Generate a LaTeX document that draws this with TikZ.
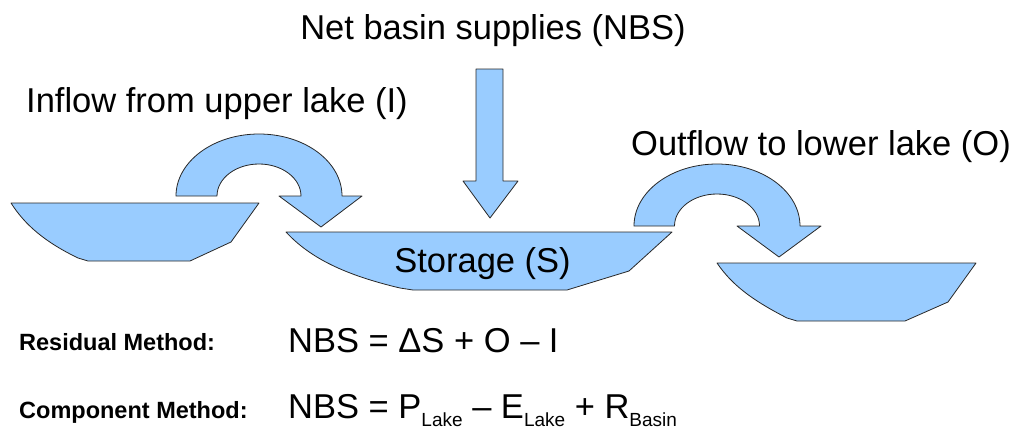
\documentclass[tikz,border=0pt]{standalone}
\usepackage{fontspec}
\setmainfont{Liberation Sans}
\definecolor{lakeblue}{RGB}{153,204,255}
\definecolor{edge}{RGB}{40,40,40}
\newcommand{\lowsub}[1]{\raisebox{-8pt}{\fontsize{19}{20}\selectfont #1}}
\begin{document}
\begin{tikzpicture}[x=1pt,y=-1pt,
  water/.style={fill=lakeblue,draw=edge,line width=0.8pt,line join=round},
  bigtext/.style={inner sep=0pt,font=\fontsize{34.5}{40}\selectfont},
  labeltext/.style={inner sep=0pt,anchor=base west,font=\bfseries\fontsize{23.5}{28}\selectfont}]
\useasboundingbox (0,0) rectangle (1019,429);
% lakes
\path[water] (11,203) -- (259,203) -- (231,242) -- (190,261) -- (88,261) -- (78,258)
  .. controls (45,242) and (25,225) .. (11,203) -- cycle;
\path[water] (286,232) -- (672,232) -- (629,271) -- (567,290) -- (413,290) -- (400,288)
  .. controls (345,275) and (310,258) .. (286,232) -- cycle;
\path[water] (717,263) -- (976,263) -- (948,302) -- (905,321) -- (797,321) -- (787,318)
  .. controls (752,300) and (732,285) .. (717,263) -- cycle;
% curved arrows
\path[water] (176,196) arc[start angle=180,end angle=360,x radius=83,y radius=62]
  -- (362,196) -- (321,227) -- (279,196) -- (301,196)
  arc[start angle=360,end angle=180,x radius=42,y radius=32] -- cycle;
\path[water] (634,226) arc[start angle=180,end angle=360,x radius=83,y radius=62]
  -- (821,226) -- (779,257) -- (737,226) -- (759.5,226)
  arc[start angle=360,end angle=180,x radius=42.5,y radius=32] -- cycle;
% NBS arrow
\path[water] (476,69) -- (503,69) -- (503,181) -- (518,181) -- (490,218) -- (463,181) -- (476,181) -- cycle;
% texts
\node[bigtext,anchor=base] (nbs) at (493,39) {Net basin supplies (NBS)};
\node[bigtext,anchor=base west] (inflow) at (26,112) {Inflow from upper lake (I)};
\node[bigtext,anchor=base west] (outflow) at (631,155) {Outflow to lower lake (O)};
\node[bigtext,anchor=base] (storage) at (482.5,272) {Storage (S)};
\node[labeltext] (resid) at (19,350) {Residual Method:};
\node[labeltext] (comp) at (19,418) {Component Method:};
\node[bigtext,anchor=base west] (eqa) at (288,352) {NBS = ΔS + O – I};
\node[bigtext,anchor=base west] (eqb) at (288,418) {NBS = P\lowsub{Lake} – E\lowsub{Lake} + R\lowsub{Basin}};
\end{tikzpicture}
\end{document}
